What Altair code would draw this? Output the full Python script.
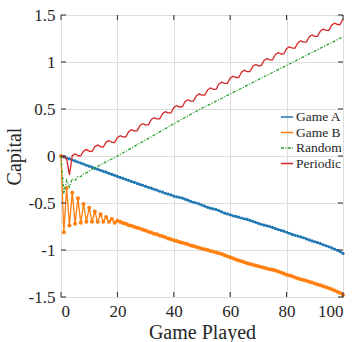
import altair as alt
import pandas as pd

series_names = ["Game A", "Game B", "Random", "Periodic"]
series_colors = ["#1f77b4", "#ff7f0e", "#2ca02c", "#d62728"]
x_ticks = [0, 20, 40, 60, 80, 100]
y_ticks = [-1.5, -1, -0.5, 0, 0.5, 1, 1.5]

game_a = [0, -0.010, -0.022, -0.031, -0.043, -0.052, -0.064, -0.075, -0.085, -0.098,
          -0.108, -0.118, -0.131, -0.140, -0.152, -0.163, -0.172, -0.185, -0.195, -0.206,
          -0.217, -0.228, -0.238, -0.250, -0.259, -0.271, -0.280, -0.292, -0.302, -0.311,
          -0.323, -0.333, -0.342, -0.354, -0.363, -0.375, -0.384, -0.396, -0.405, -0.414,
          -0.426, -0.434, -0.440, -0.448, -0.459, -0.470, -0.482, -0.492, -0.500, -0.510,
          -0.522, -0.534, -0.546, -0.555, -0.562, -0.570, -0.581, -0.595, -0.607, -0.616,
          -0.626, -0.636, -0.643, -0.651, -0.660, -0.668, -0.675, -0.684, -0.695, -0.705,
          -0.716, -0.726, -0.735, -0.743, -0.750, -0.760, -0.772, -0.782, -0.791, -0.800,
          -0.811, -0.822, -0.834, -0.844, -0.852, -0.861, -0.870, -0.882, -0.893, -0.903,
          -0.912, -0.921, -0.932, -0.944, -0.955, -0.965, -0.978, -0.990, -1.003, -1.019,
          -1.036]

game_b = [0, -0.81, -0.34, -0.74, -0.39, -0.72, -0.45, -0.71, -0.51, -0.70,
          -0.55, -0.70, -0.59, -0.70, -0.62, -0.70, -0.65, -0.70, -0.67, -0.71,
          -0.690, -0.700, -0.712, -0.722, -0.738, -0.742, -0.756, -0.762, -0.772, -0.785,
          -0.793, -0.806, -0.815, -0.826, -0.833, -0.846, -0.855, -0.864, -0.877, -0.886,
          -0.897, -0.904, -0.915, -0.922, -0.932, -0.940, -0.951, -0.958, -0.967, -0.975,
          -0.986, -0.992, -1.001, -1.010, -1.017, -1.027, -1.035, -1.043, -1.056, -1.066,
          -1.078, -1.088, -1.100, -1.112, -1.121, -1.130, -1.140, -1.148, -1.156, -1.165,
          -1.173, -1.182, -1.190, -1.196, -1.204, -1.210, -1.218, -1.230, -1.240, -1.250,
          -1.262, -1.271, -1.280, -1.292, -1.302, -1.311, -1.320, -1.328, -1.337, -1.346,
          -1.356, -1.366, -1.376, -1.385, -1.395, -1.406, -1.418, -1.430, -1.443, -1.458,
          -1.478]

random_g = [0, -0.40, -0.26, -0.33, -0.24, -0.26, -0.22, -0.22, -0.19, -0.18,
            -0.16, -0.14, -0.125, -0.11, -0.095, -0.078, -0.063, -0.047, -0.032, -0.016,
            0.0, 0.017, 0.034, 0.051, 0.068, 0.085, 0.102, 0.12, 0.137, 0.154,
            0.171, 0.188, 0.205, 0.222, 0.24, 0.257, 0.274, 0.291, 0.308, 0.326,
            0.343, 0.36, 0.377, 0.394, 0.41, 0.427, 0.443, 0.46, 0.476, 0.492,
            0.508, 0.523, 0.539, 0.553, 0.569, 0.584, 0.600, 0.614, 0.630, 0.645,
            0.660, 0.676, 0.690, 0.706, 0.721, 0.736, 0.751, 0.767, 0.782, 0.797,
            0.812, 0.828, 0.843, 0.858, 0.873, 0.888, 0.903, 0.919, 0.934, 0.949,
            0.964, 0.979, 0.995, 1.010, 1.025, 1.040, 1.055, 1.070, 1.086, 1.101,
            1.116, 1.131, 1.147, 1.162, 1.177, 1.192, 1.207, 1.222, 1.238, 1.253,
            1.268]

periodic = [0, -0.01, -0.03, -0.20, 0.005, 0.022, 0.004, 0.001, 0.053, 0.069,
            0.051, 0.048, 0.100, 0.117, 0.099, 0.096, 0.148, 0.164, 0.146, 0.143,
            0.195, 0.216, 0.202, 0.203, 0.259, 0.280, 0.266, 0.267, 0.323, 0.344,
            0.330, 0.331, 0.387, 0.408, 0.394, 0.395, 0.451, 0.472, 0.458, 0.459,
            0.515, 0.536, 0.521, 0.522, 0.578, 0.598, 0.584, 0.585, 0.640, 0.661,
            0.647, 0.647, 0.703, 0.724, 0.709, 0.710, 0.766, 0.786, 0.772, 0.773,
            0.828, 0.849, 0.835, 0.835, 0.891, 0.912, 0.897, 0.898, 0.954, 0.974,
            0.960, 0.961, 1.016, 1.037, 1.023, 1.023, 1.079, 1.100, 1.085, 1.086,
            1.142, 1.162, 1.148, 1.149, 1.204, 1.225, 1.211, 1.211, 1.267, 1.288,
            1.273, 1.274, 1.330, 1.350, 1.336, 1.337, 1.392, 1.413, 1.399, 1.399,
            1.455]

rows = []
for name, vals in zip(series_names, [game_a, game_b, random_g, periodic]):
    for i, v in enumerate(vals):
        rows.append({"step": i, "value": v, "series": name})
df = pd.DataFrame(rows)

W, H = 282, 282
FONT = "Liberation Serif"
TXT = "#262626"

x_scale = alt.Scale(domain=[0, 100], nice=False, zero=False)
y_scale = alt.Scale(domain=[-1.5, 1.5], nice=False, zero=False)
color_scale = alt.Scale(domain=series_names, range=series_colors)
dash_scale = alt.Scale(domain=series_names, range=[[1, 0], [1, 0], [3, 1.5, 1, 1.5], [1, 0]])

legend = alt.Legend(title=None, orient="none", legendX=219, legendY=95,
                    symbolType="stroke", symbolSize=150, symbolStrokeWidth=1.5,
                    labelFont=FONT, labelFontSize=13.5, labelColor=TXT,
                    labelOffset=2, rowPadding=1.5, padding=0)

x_enc = alt.X("step:Q", scale=x_scale,
              axis=alt.Axis(values=x_ticks, title="Game Played", labelExpr="'' + datum.value",
                            labelFont=FONT, titleFont=FONT))
y_enc = alt.Y("value:Q", scale=y_scale,
              axis=alt.Axis(values=y_ticks, title="Capital", labelExpr="'' + datum.value",
                            labelFont=FONT, titleFont=FONT))
color_enc = alt.Color("series:N", scale=color_scale, legend=legend)
dash_enc = alt.StrokeDash("series:N", scale=dash_scale, legend=legend)

layers = []
for name in series_names:
    layers.append(
        alt.Chart(df).transform_filter(alt.datum.series == name)
        .mark_line(strokeWidth=1.3)
        .encode(x=x_enc, y=y_enc, color=color_enc, strokeDash=dash_enc)
    )
    if name in ("Game A", "Game B"):
        layers.append(
            alt.Chart(df).transform_filter(alt.datum.series == name)
            .mark_circle(size=10 if name == "Game A" else 16, opacity=1)
            .encode(x=x_enc, y=y_enc, color=color_enc)
        )

xt = pd.DataFrame({"step": x_ticks})
yt = pd.DataFrame({"value": y_ticks})
tick_b = alt.Chart(xt).mark_rule(color=TXT, strokeWidth=1).encode(
    x=alt.X("step:Q", scale=x_scale), y=alt.value(H), y2=alt.value(H - 5))
tick_t = alt.Chart(xt).mark_rule(color=TXT, strokeWidth=1).encode(
    x=alt.X("step:Q", scale=x_scale), y=alt.value(0), y2=alt.value(5))
tick_l = alt.Chart(yt).mark_rule(color=TXT, strokeWidth=1).encode(
    y=alt.Y("value:Q", scale=y_scale), x=alt.value(0), x2=alt.value(5))
tick_r = alt.Chart(yt).mark_rule(color=TXT, strokeWidth=1).encode(
    y=alt.Y("value:Q", scale=y_scale), x=alt.value(W), x2=alt.value(W - 5))

chart = alt.layer(*layers, tick_b, tick_t, tick_l, tick_r).properties(
    width=W, height=H,
    autosize=alt.AutoSizeParams(type="none"),
    padding={"left": 61, "top": 15, "right": 14, "bottom": 45},
    background="white",
).configure(font=FONT).configure_view(stroke=TXT, strokeWidth=1).configure_axis(
    grid=True, gridColor="#dedede", gridWidth=1,
    domain=False, ticks=False, tickSize=0,
    labelFont=FONT, labelFontSize=17, labelColor=TXT, labelPadding=6,
    titleFont=FONT, titleFontSize=20, titleFontWeight="normal", titleColor=TXT,
).configure_legend(labelFont=FONT).configure_axisX(titlePadding=3).configure_axisY(titlePadding=4)

chart.save("out.html", embed_options={"renderer": "svg", "actions": False})
